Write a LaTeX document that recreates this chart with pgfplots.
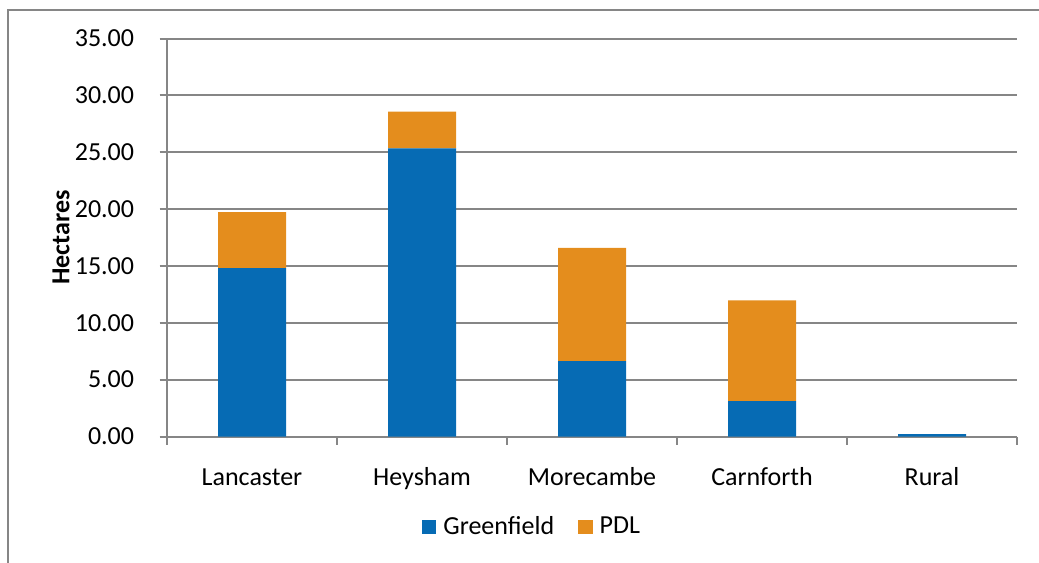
\documentclass[border=0pt]{standalone}
\usepackage{pgfplots}
\pgfplotsset{compat=1.18}
\usepackage{fontspec}
\setmainfont{Carlito}

\definecolor{gfblue}{RGB}{6,107,180}
\definecolor{pdlorange}{RGB}{228,141,29}
\definecolor{axisgray}{RGB}{134,134,134}

% Developed land by settlement (hectares)
\pgfplotstableread{
x  name       greenfield  pdl
0  Lancaster  14.81       4.92
1  Heysham    25.33       3.25
2  Morecambe  6.62        9.97
3  Carnforth  3.10        8.86
4  Rural      0.20        0.00
}\landdata

\begin{document}
\fontsize{13bp}{15.6bp}\selectfont
\begin{tikzpicture}
\path[use as bounding box] (0,0) rectangle (519.5bp,281.5bp);
% chart frame
\draw[axisgray, line width=1bp] (4bp,-5bp) -- (4bp,276.5bp) -- (530bp,276.5bp);
\begin{axis}[
  at={(83.5bp,63.25bp)}, anchor=south west,
  scale only axis, width=425bp, height=199bp,
  xmin=-0.5, xmax=4.5, ymin=0, ymax=35,
  ybar stacked, bar width=0.4,
  axis x line*=bottom, axis y line*=left,
  axis line style={draw=axisgray, line width=1bp, -},
  tick align=outside,
  xtick={0,1,2,3,4},
  xticklabels={Lancaster,Heysham,Morecambe,Carnforth,Rural},
  minor xtick={-0.5,0.5,1.5,2.5,3.5,4.5},
  major x tick style={draw=none},
  minor x tick style={draw=axisgray, line width=1bp},
  minor tick length=4bp,
  ytick={0,5,...,35},
  major tick length=3.75bp,
  ytick style={draw=axisgray, line width=1bp},
  ymajorgrids,
  major grid style={draw=axisgray, line width=1bp},
  /pgf/number format/fixed,
  /pgf/number format/fixed zerofill,
  /pgf/number format/precision=2,
  /pgf/number format/assume math mode=true,
  yticklabel style={anchor=east, inner sep=0pt, xshift=-12.5bp},
  xticklabel style={anchor=base, inner sep=0pt, yshift=-20.75bp},
  every axis y label/.style={at={(rel axis cs:0,0.5)}, xshift=-53bp, rotate=90, anchor=center, inner sep=0pt},
  ylabel={\bfseries Hectares},
  legend columns=2,
  legend style={at={(rel axis cs:0.4282,-0.2274)}, anchor=center, draw=none, fill=none,
    inner sep=0pt, nodes={inner sep=0pt},
    /tikz/every odd column/.append style={column sep=3.5bp},
    /tikz/every even column/.append style={column sep=12bp}},
  legend image code/.code={\fill[#1] (0bp,-3.6bp) rectangle (7.25bp,3.6bp);},
]
\addplot[fill=gfblue, draw=none] table[x=x, y=greenfield] {\landdata};
\addlegendentry{Greenfield}
\addplot[fill=pdlorange, draw=none] table[x=x, y=pdl] {\landdata};
\addlegendentry{PDL}
\end{axis}
\end{tikzpicture}
\end{document}
